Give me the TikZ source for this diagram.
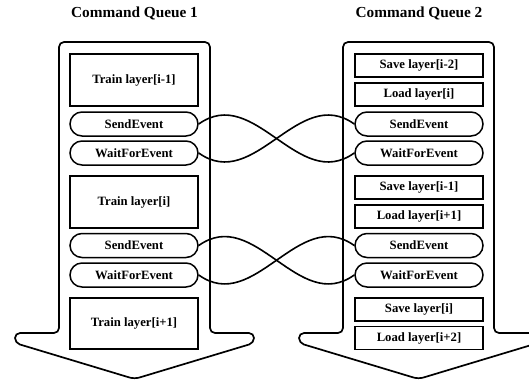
\documentclass[tikz,border=0pt]{standalone}
\usepackage{fontspec}
\setmainfont{Liberation Serif}
\tikzset{
  queue/.style={line width=1.7pt, rounded corners=5pt},
  layerbox/.style={draw, line width=1.5pt, minimum width=128pt, inner sep=0pt,
    font=\fontsize{12.7}{14}\selectfont\bfseries},
  eventbox/.style={layerbox, rounded corners=12pt, minimum height=24pt},
  signal/.style={line width=1.6pt},
}
\begin{document}
\begin{tikzpicture}[x=1pt,y=-1pt]
  \useasboundingbox (0,0) rectangle (529,381);
  \clip (0,0) rectangle (529,381);
  % the two queues
  \draw[queue] (134.5,42) -- (210,42) -- (210,333) -- (254,333) -- (254,343) -- (134.5,379) -- (15,343) -- (15,333) -- (59,333) -- (59,42) -- cycle;
  \draw[queue] (418.5,42) -- (494,42) -- (494,333) -- (538,333) -- (538,343) -- (418.5,379) -- (299,343) -- (299,333) -- (343,333) -- (343,42) -- cycle;
  \node[font=\fontsize{15.3}{18}\selectfont\bfseries] (title1) at (134.5,13) {Command Queue 1};
  \node[font=\fontsize{15.3}{18}\selectfont\bfseries] (title2) at (419,13) {Command Queue 2};
  % queue 1
  \node[layerbox, minimum height=52pt] (train1) at (134,80) {Train layer[i-1]};
  \node[eventbox] (send1) at (134,124) {SendEvent};
  \node[eventbox] (wait1) at (134,153) {WaitForEvent};
  \node[layerbox, minimum height=52pt] (train2) at (134,202) {Train layer[i]};
  \node[eventbox] (send2) at (134,245.5) {SendEvent};
  \node[eventbox] (wait2) at (134,275) {WaitForEvent};
  \node[layerbox, minimum height=51pt] (train3) at (134,323.5) {Train layer[i+1]};
  % queue 2
  \node[layerbox, minimum height=23pt] (save1) at (419,65.5) {Save layer[i-2]};
  \node[layerbox, minimum height=23pt] (load1) at (419,94.5) {Load layer[i]};
  \node[eventbox] (rsend1) at (419,124) {SendEvent};
  \node[eventbox] (rwait1) at (419,153) {WaitForEvent};
  \node[layerbox, minimum height=23pt] (save2) at (419,187.5) {Save layer[i-1]};
  \node[layerbox, minimum height=23pt] (load2) at (419,216.5) {Load layer[i+1]};
  \node[eventbox] (rsend2) at (419,245.5) {SendEvent};
  \node[eventbox] (rwait2) at (419,275) {WaitForEvent};
  \node[layerbox, minimum height=23pt] (save3) at (419,309.5) {Save layer[i]};
  \node[layerbox, minimum height=23pt] (load3) at (419,338) {Load layer[i+2]};
  % events
  \draw[signal] (send1.east) .. controls +(56,-40) and +(-56,40) .. (rwait1.west);
  \draw[signal] (wait1.east) .. controls +(56,40) and +(-56,-40) .. (rsend1.west);
  \draw[signal] (send2.east) .. controls +(56,-40) and +(-56,40) .. (rwait2.west);
  \draw[signal] (wait2.east) .. controls +(56,40) and +(-56,-40) .. (rsend2.west);
\end{tikzpicture}
\end{document}
